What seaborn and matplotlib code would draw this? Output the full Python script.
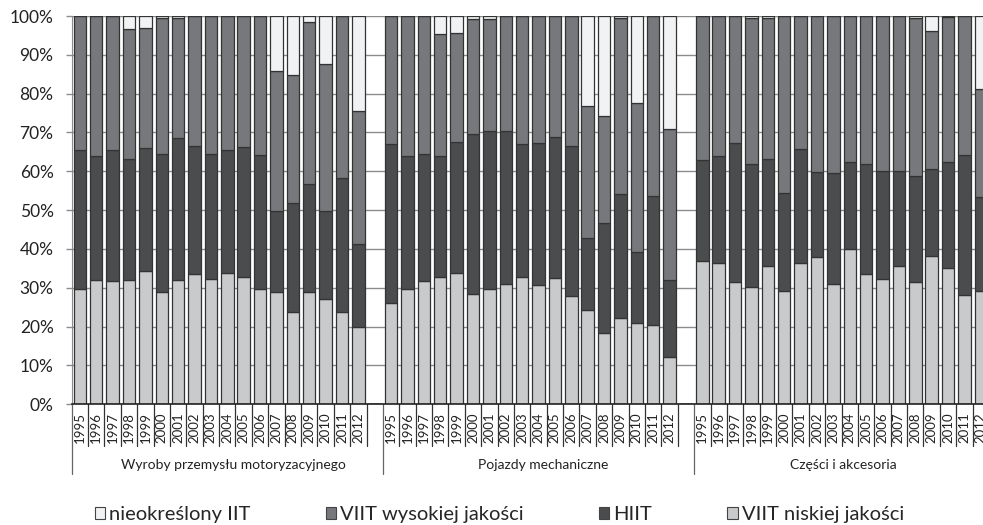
import numpy as np
import pandas as pd
import matplotlib.pyplot as plt
import matplotlib.ticker as mtick
import seaborn as sns

years = [str(y) for y in range(1995, 2013)]
groups = ['Wyroby przemysłu motoryzacyjnego', 'Pojazdy mechaniczne', 'Części i akcesoria']
segments = ['nieokreślony IIT', 'VIIT wysokiej jakości', 'HIIT', 'VIIT niskiej jakości']

# shares in %, bottom -> top: VIIT niskiej, HIIT, VIIT wysokiej, nieokreslony
wyroby_low = [29.6, 32.0, 31.7, 32.1, 34.4, 28.9, 32.1, 33.5, 32.2, 33.9, 32.9, 29.6, 28.8, 23.8, 28.8, 27.2, 23.8, 19.9]
wyroby_hiit = [36.0, 31.9, 33.8, 31.0, 31.6, 35.5, 36.6, 33.1, 32.2, 31.6, 33.3, 34.5, 20.9, 28.0, 28.0, 22.5, 34.6, 21.5]
wyroby_high = [34.4, 36.1, 34.5, 33.6, 30.9, 35.0, 30.7, 33.4, 35.6, 34.5, 33.8, 35.9, 36.2, 33.0, 41.7, 37.9, 41.6, 34.2]
wyroby_unk = [0.0, 0.0, 0.0, 3.3, 3.1, 0.6, 0.6, 0.0, 0.0, 0.0, 0.0, 0.0, 14.1, 15.2, 1.5, 12.4, 0.0, 24.4]

pojazdy_low = [26.1, 29.7, 31.8, 32.9, 33.8, 28.5, 29.6, 31.0, 32.9, 30.6, 32.4, 28.0, 24.3, 18.4, 22.1, 21.0, 20.3, 12.2]
pojazdy_hiit = [40.9, 34.3, 32.7, 31.0, 33.7, 41.0, 40.7, 39.3, 34.1, 36.7, 36.4, 38.6, 18.5, 28.4, 32.0, 18.1, 33.4, 19.7]
pojazdy_high = [33.0, 36.0, 35.5, 31.4, 28.0, 29.7, 28.9, 29.7, 33.0, 32.7, 31.2, 33.4, 34.0, 27.4, 45.5, 38.5, 46.3, 38.9]
pojazdy_unk = [0.0, 0.0, 0.0, 4.7, 4.5, 0.8, 0.8, 0.0, 0.0, 0.0, 0.0, 0.0, 23.2, 25.8, 0.4, 22.4, 0.0, 29.2]

czesci_low = [37.0, 36.3, 31.5, 30.3, 35.6, 29.3, 36.4, 38.0, 31.1, 40.1, 33.5, 32.2, 35.5, 31.4, 38.3, 35.2, 28.2, 29.2]
czesci_hiit = [25.9, 27.6, 35.7, 31.6, 27.5, 25.1, 29.4, 21.9, 28.4, 22.3, 28.4, 27.9, 24.6, 27.4, 22.3, 27.3, 36.0, 24.1]
czesci_high = [37.1, 36.1, 32.8, 37.7, 36.4, 45.6, 34.2, 40.1, 40.5, 37.6, 38.1, 39.9, 39.9, 40.8, 35.6, 37.3, 35.8, 28.0]
czesci_unk = [0.0, 0.0, 0.0, 0.4, 0.5, 0.0, 0.0, 0.0, 0.0, 0.0, 0.0, 0.0, 0.0, 0.4, 3.8, 0.2, 0.0, 18.7]

colors = {'nieokreślony IIT': '#f1f2f4', 'VIIT wysokiej jakości': '#77787c',
          'HIIT': '#4b4c4e', 'VIIT niskiej jakości': '#c9cacc'}

group_data = [
    (wyroby_unk, wyroby_high, wyroby_hiit, wyroby_low),
    (pojazdy_unk, pojazdy_high, pojazdy_hiit, pojazdy_low),
    (czesci_unk, czesci_high, czesci_hiit, czesci_low),
]

# long table; one empty slot between groups
rows = []
starts = []
for g, series in enumerate(group_data):
    start = g * (len(years) + 1)
    starts.append(start)
    for seg, vals in zip(segments, series):
        for i, v in enumerate(vals):
            rows.append({'pos': start + i, 'year': years[i], 'group': groups[g], 'seg': seg, 'val': v})
df = pd.DataFrame(rows)

sns.set_style('white')
plt.rcParams['font.family'] = ['Lato', 'DejaVu Sans']

fig = plt.figure(figsize=(9.83, 5.25), dpi=100)
ax = fig.add_axes([0.0729, 0.2299, 0.9332, 0.7396])

sns.histplot(data=df, x='pos', weights='val', hue='seg', hue_order=segments,
             multiple='stack', discrete=True, shrink=0.76, palette=colors,
             alpha=1, edgecolor='#333333', linewidth=0.9, ax=ax)

n_slots = 3 * len(years) + 2
ax.set_xlim(-0.5, n_slots - 0.5)
ax.set_ylim(0, 100)
ax.yaxis.set_major_locator(mtick.MultipleLocator(10))
ax.yaxis.set_major_formatter(mtick.PercentFormatter(decimals=0))
ax.set_xticks([])
ax.set_xlabel('')
ax.set_ylabel('')
ax.set_axisbelow(True)
ax.yaxis.grid(True, color='#8c8c8c', lw=1)
ax.xaxis.grid(False)
ax.tick_params(axis='y', which='major', length=4, width=1, color='#8c8c8c',
               labelsize=12.5, labelcolor='#222222', pad=9, left=True)
for s in ['top', 'right']:
    ax.spines[s].set_visible(False)
ax.spines['left'].set_color('#8c8c8c')
ax.spines['bottom'].set_color('#222222')
ax.spines['bottom'].set_linewidth(1.2)

# category axis: years, ticks between them, group labels
trans = ax.get_xaxis_transform()
label_x = [9.4, 28.3, 46.6]
for g, start in enumerate(starts):
    for i, yr in enumerate(years):
        ax.text(start + i, -0.021, yr, rotation=90, ha='center', va='top',
                fontsize=9.5, color='#222222', transform=trans, clip_on=False)
    for k in range(len(years) + 1):
        xb = start - 0.5 + k
        y_end = -0.18 if k == 0 else -0.107
        ax.plot([xb, xb], [0, y_end], color='#333333' if k else '#666666', lw=0.9,
                transform=trans, clip_on=False)
    ax.text(label_x[g], -0.157, groups[g], ha='center', va='center',
            fontsize=10, color='#222222', transform=trans, clip_on=False)

sns.move_legend(ax, 'center', bbox_to_anchor=(0.508, 0.02), bbox_transform=fig.transFigure,
                ncol=4, frameon=False, title=None, fontsize=14.5,
                handlelength=0.5, handleheight=0.5, handletextpad=0.2, columnspacing=3.75)
for h in ax.get_legend().legend_handles:
    h.set_edgecolor('#444444')
    h.set_linewidth(0.8)

fig.savefig('out.png', dpi=100)
